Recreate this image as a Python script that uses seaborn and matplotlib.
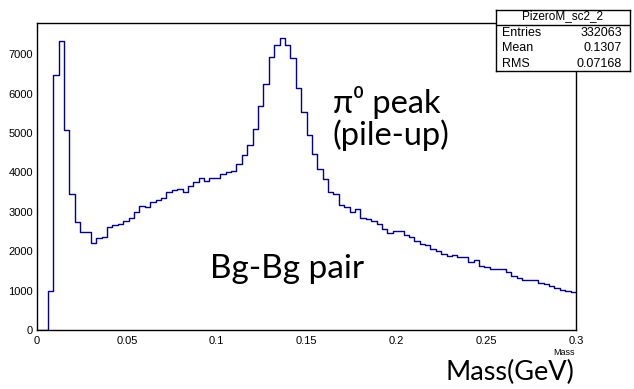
import numpy as np
import pandas as pd
import matplotlib
matplotlib.use("Agg")
import matplotlib.pyplot as plt
from matplotlib.ticker import MultipleLocator, FuncFormatter
import seaborn as sns

# PizeroM_sc2_2 : 100 bins from 0 to 0.3 GeV, counts
bin_edges_lo = 0.0
bin_edges_hi = 0.3
n_bins = 100
counts = [
    0, 0, 1000, 6460, 7330, 5080, 3460, 2740, 2480, 2490,
    2220, 2340, 2360, 2610, 2670, 2700, 2760, 2830, 3000, 3140,
    3110, 3250, 3300, 3340, 3510, 3560, 3590, 3500, 3650, 3750,
    3860, 3770, 3860, 3850, 3970, 4000, 4040, 4210, 4440, 4690,
    5110, 5690, 6240, 6940, 7230, 7420, 7220, 6910, 6150, 5540,
    4960, 4470, 4080, 3820, 3510, 3440, 3160, 3120, 3000, 3080,
    2830, 2810, 2770, 2690, 2560, 2450, 2510, 2500, 2410, 2370,
    2270, 2180, 2160, 2060, 2010, 1930, 1880, 1900, 1840, 1850,
    1730, 1770, 1620, 1600, 1560, 1540, 1540, 1460, 1370, 1330,
    1270, 1270, 1260, 1200, 1170, 1120, 1060, 1020, 1000, 970,
]
stats_title = "PizeroM_sc2_2"
stats_names = ["Entries", "Mean", "RMS"]
stats_values = ["332063", "0.1307", "0.07168"]

width = (bin_edges_hi - bin_edges_lo) / n_bins
mass = bin_edges_lo + width * (np.arange(n_bins) + 0.5)
df = pd.DataFrame({"Mass": mass, "Entries": counts})

sns.set_style("white")
plt.rcParams["font.family"] = ["Liberation Sans", "DejaVu Sans"]
plt.rcParams["text.color"] = "black"

fig = plt.figure(figsize=(6.34, 3.89), dpi=100)
ax = fig.add_axes([37 / 634, 1 - 330 / 389, 539 / 634, 307 / 389])

sns.histplot(data=df, x="Mass", weights="Entries", bins=n_bins,
             binrange=(bin_edges_lo, bin_edges_hi), element="step",
             fill=False, color="#000099", linewidth=1.0, ax=ax)

ax.set_xlim(0, 0.3)
ax.set_ylim(0, 1.05 * max(counts))
ax.set_xlabel("")
ax.set_ylabel("")

for s in ax.spines.values():
    s.set_color("black")
    s.set_linewidth(1.0)

ax.xaxis.set_major_locator(MultipleLocator(0.05))
ax.xaxis.set_minor_locator(MultipleLocator(0.01))
ax.yaxis.set_major_locator(MultipleLocator(1000))
ax.yaxis.set_minor_locator(MultipleLocator(200))
ax.xaxis.set_major_formatter(FuncFormatter(lambda v, p: f"{v:g}"))
ax.yaxis.set_major_formatter(FuncFormatter(lambda v, p: f"{v:g}"))
ax.tick_params(which="both", direction="in", colors="black", labelsize=8,
               top=False, right=False, width=0.8)
ax.tick_params(axis="y", which="major", length=12, pad=3)
ax.tick_params(axis="y", which="minor", length=6)
ax.tick_params(axis="x", which="major", length=7, pad=4)
ax.tick_params(axis="x", which="minor", length=3.5)

# annotations
big = ["Lato", "Noto Sans", "DejaVu Sans"]
ax.text(0.1646, 5515, "π⁰ peak", family=big, fontsize=23.5, va="baseline")
ax.text(0.1646, 4695, "(pile-up)", family=big, fontsize=23.5, va="baseline")
ax.text(0.0963, 1312, "Bg-Bg pair", family=big, fontsize=24, va="baseline")
fig.text(445 / 634, 1 - 380 / 389, "Mass(GeV)", family=big, fontsize=19.5,
         va="baseline")
fig.text(575 / 634, 1 - 355 / 389, "Mass", fontsize=6.5, ha="right",
         va="baseline")

# stats box
sb = fig.add_axes([495.7 / 634, 1 - 71 / 389, 134.3 / 634, 61 / 389])
sb.set_xlim(0, 1)
sb.set_ylim(0, 1)
sb.set_xticks([])
sb.set_yticks([])
sb.set_facecolor("white")
for s in sb.spines.values():
    s.set_color("black")
    s.set_linewidth(1.0)
sb.axhline(0.76, color="black", linewidth=1.0)
sb.text(0.5, 0.895, stats_title, ha="center", va="center", fontsize=8.5)
for yy, name, val in zip([0.62, 0.37, 0.12], stats_names, stats_values):
    sb.text(0.045, yy, name, ha="left", va="center", fontsize=9)
    sb.text(0.94, yy, val, ha="right", va="center", fontsize=9)

fig.savefig("out.png", dpi=100)
